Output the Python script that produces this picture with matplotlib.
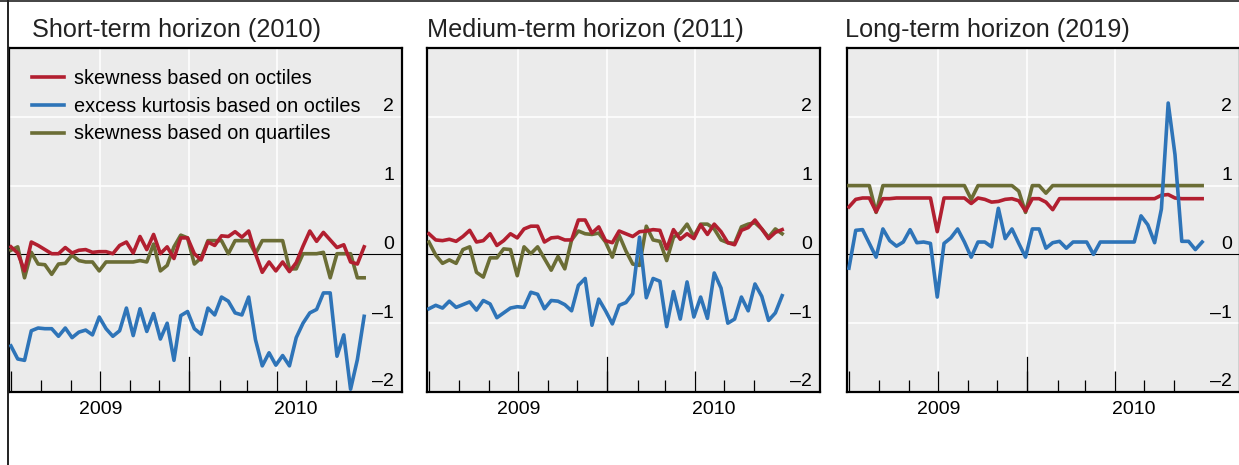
import matplotlib
matplotlib.use("Agg")
import matplotlib.pyplot as plt
import matplotlib.transforms as mtransforms
from matplotlib.lines import Line2D
import pandas as pd

plt.rcParams['font.family'] = ['Liberation Sans', 'DejaVu Sans']

# ---------------- data ----------------
dates = pd.date_range('2009-07-01', periods=53, freq='7D')

titles = ["Short-term horizon (2010)", "Medium-term horizon (2011)", "Long-term horizon (2019)"]
legend_labels = ["skewness based on octiles", "excess kurtosis based on octiles", "skewness based on quartiles"]
ytick_values = [-2, -1, 0, 1, 2]
ytick_labels = ["\u20132", "\u20131", "0", "1", "2"]
year_labels = ["2009", "2010"]

short_skew_oct = [0.11, 0.02, -0.24, 0.18, 0.13, 0.07, 0.01, 0.01, 0.10, 0.02,
                  0.06, 0.07, 0.03, 0.04, 0.04, 0.01, 0.13, 0.18, 0.02, 0.26,
                  0.07, 0.29, 0.01, 0.11, -0.06, 0.24, 0.24, 0.01, -0.08, 0.18,
                  0.13, 0.27, 0.26, 0.33, 0.25, 0.34, 0.01, -0.26, -0.11, -0.24,
                  -0.11, -0.25, -0.12, 0.12, 0.34, 0.19, 0.32, 0.21, 0.10, 0.14,
                  -0.11, -0.14, 0.11]
short_kurt_oct = [-1.33, -1.52, -1.54, -1.11, -1.07, -1.08, -1.08, -1.19, -1.07, -1.21,
                  -1.13, -1.10, -1.17, -0.91, -1.08, -1.19, -1.11, -0.78, -1.18, -0.79,
                  -1.12, -0.86, -1.23, -1.00, -1.54, -0.89, -0.83, -1.08, -1.16, -0.78,
                  -0.88, -0.62, -0.68, -0.85, -0.88, -0.62, -1.24, -1.62, -1.43, -1.61,
                  -1.47, -1.62, -1.21, -1.00, -0.85, -0.80, -0.56, -0.56, -1.48, -1.17,
                  -1.96, -1.53, -0.90]
short_skew_quart = [0.06, 0.11, -0.34, 0.03, -0.14, -0.15, -0.29, -0.14, -0.13, -0.01,
                    -0.09, -0.11, -0.11, -0.24, -0.11, -0.11, -0.11, -0.11, -0.11, -0.09,
                    -0.11, 0.15, -0.24, -0.16, 0.11, 0.28, 0.24, -0.14, -0.05, 0.20,
                    0.20, 0.20, 0.01, 0.20, 0.20, 0.20, 0.01, 0.20, 0.20, 0.20,
                    0.20, -0.21, -0.21, 0.01, 0.01, 0.01, 0.03, -0.34, 0.01, 0.01,
                    0.01, -0.34, -0.34]

medium_skew_oct = [0.30, 0.21, 0.20, 0.22, 0.19, 0.26, 0.35, 0.18, 0.20, 0.30,
                   0.13, 0.20, 0.30, 0.24, 0.37, 0.41, 0.41, 0.18, 0.24, 0.25,
                   0.21, 0.21, 0.50, 0.50, 0.31, 0.40, 0.20, 0.17, 0.34, 0.30,
                   0.26, 0.33, 0.34, 0.36, 0.35, 0.08, 0.36, 0.22, 0.30, 0.23,
                   0.43, 0.29, 0.44, 0.33, 0.17, 0.14, 0.35, 0.39, 0.50, 0.37,
                   0.23, 0.32, 0.36]
medium_kurt_oct = [-0.79, -0.74, -0.78, -0.68, -0.77, -0.73, -0.69, -0.81, -0.67, -0.72,
                   -0.92, -0.85, -0.78, -0.76, -0.77, -0.55, -0.58, -0.79, -0.67, -0.68,
                   -0.73, -0.82, -0.45, -0.35, -1.03, -0.65, -0.82, -1.01, -0.74, -0.70,
                   -0.57, 0.25, -0.63, -0.35, -0.39, -1.05, -0.54, -0.94, -0.40, -0.91,
                   -0.62, -0.93, -0.27, -0.49, -1.00, -0.94, -0.62, -0.82, -0.43, -0.61,
                   -0.96, -0.85, -0.60]
medium_skew_quart = [0.18, -0.01, -0.13, -0.08, -0.13, 0.07, 0.11, -0.26, -0.33, -0.05,
                     -0.05, 0.08, 0.07, -0.31, 0.11, 0.01, 0.11, -0.06, -0.23, -0.03,
                     -0.21, 0.21, 0.34, 0.30, 0.29, 0.31, 0.18, -0.04, 0.28, 0.05,
                     -0.14, -0.16, 0.41, 0.21, 0.19, -0.09, 0.25, 0.31, 0.44, 0.26,
                     0.44, 0.44, 0.37, 0.21, 0.17, 0.16, 0.40, 0.44, 0.46, 0.37,
                     0.25, 0.37, 0.30]

long_skew_oct = [0.69, 0.80, 0.82, 0.82, 0.62, 0.81, 0.81, 0.82, 0.82, 0.82,
                 0.82, 0.82, 0.82, 0.33, 0.82, 0.82, 0.82, 0.82, 0.74, 0.82,
                 0.80, 0.76, 0.77, 0.80, 0.81, 0.78, 0.63, 0.81, 0.81, 0.76,
                 0.65, 0.81, 0.81, 0.81, 0.81, 0.81, 0.81, 0.81, 0.81, 0.81,
                 0.81, 0.81, 0.81, 0.81, 0.81, 0.81, 0.86, 0.87, 0.82, 0.81,
                 0.81, 0.81, 0.81]
long_kurt_oct = [-0.20, 0.35, 0.36, 0.16, -0.04, 0.37, 0.20, 0.12, 0.18, 0.36,
                 0.17, 0.18, 0.16, -0.62, 0.16, 0.24, 0.37, 0.18, -0.04, 0.18,
                 0.18, 0.11, 0.67, 0.23, 0.37, 0.16, -0.04, 0.37, 0.37, 0.09,
                 0.17, 0.19, 0.09, 0.18, 0.18, 0.18, 0.00, 0.18, 0.18, 0.18,
                 0.18, 0.18, 0.18, 0.56, 0.43, 0.17, 0.66, 2.20, 1.45, 0.19,
                 0.19, 0.07, 0.18]
long_skew_quart = [1.00, 1.00, 1.00, 1.00, 0.61, 1.00, 1.00, 1.00, 1.00, 1.00,
                   1.00, 1.00, 1.00, 1.00, 1.00, 1.00, 1.00, 1.00, 0.80, 1.00,
                   1.00, 1.00, 1.00, 1.00, 1.00, 0.92, 0.61, 1.00, 1.00, 0.89,
                   1.00, 1.00, 1.00, 1.00, 1.00, 1.00, 1.00, 1.00, 1.00, 1.00,
                   1.00, 1.00, 1.00, 1.00, 1.00, 1.00, 1.00, 1.00, 1.00, 1.00,
                   1.00, 1.00, 1.00]

panels = [
    (short_skew_oct, short_kurt_oct, short_skew_quart),
    (medium_skew_oct, medium_kurt_oct, medium_skew_quart),
    (long_skew_oct, long_kurt_oct, long_skew_quart),
]

# ---------------- style ----------------
RED = "#B21F30"
BLUE = "#2E74B8"
OLIVE = "#6B6D35"
BG = "#EBEBEB"
LW = 2.6

W, H, DPI = 1239, 465, 100
fig = plt.figure(figsize=(W / DPI, H / DPI), dpi=DPI)
fig.patch.set_facecolor("white")

ax_left_px = [9, 427, 847]
title_left_px = [32, 427, 845]
ax_w_px, ax_top_px, ax_bot_px = 393, 48, 392

xlim = (pd.Timestamp('2009-06-29'), pd.Timestamp('2010-08-08'))
quarter_ticks = pd.to_datetime(['2009-07-01', '2009-10-01', '2010-01-01', '2010-04-01'])
month_ticks = pd.date_range('2009-08-01', '2010-06-01', freq='MS')
year_boundary = pd.Timestamp('2010-01-01')
grid_dates = pd.to_datetime(['2009-10-01', '2010-01-01', '2010-04-01'])

for k, (skew_o, kurt_o, skew_q) in enumerate(panels):
    ax = fig.add_axes([ax_left_px[k] / W, (H - ax_bot_px) / H,
                       ax_w_px / W, (ax_bot_px - ax_top_px) / H])
    ax.set_facecolor(BG)
    ax.set_xlim(*xlim)
    ax.set_ylim(-2, 3)

    # grid
    for v in [-1, 1, 2]:
        ax.axhline(v, color="white", lw=1.1, zorder=1)
    for d in grid_dates:
        ax.axvline(d, color="white", lw=1.1, zorder=1)
    ax.axhline(0, color="black", lw=0.8, zorder=2)

    ax.plot(dates, skew_q, color=OLIVE, lw=LW, zorder=3)
    ax.plot(dates, skew_o, color=RED, lw=LW, zorder=4)
    ax.plot(dates, kurt_o, color=BLUE, lw=LW, zorder=5)

    # ticks
    ax.set_xticks(quarter_ticks)
    ax.set_xticks([d for d in month_ticks if d not in quarter_ticks], minor=True)
    ax.tick_params(axis='x', which='major', direction='in', length=15, width=0.9,
                   color='black', labelbottom=False)
    ax.tick_params(axis='x', which='minor', direction='in', length=8.4, width=0.9,
                   color='black', labelbottom=False)
    ax.axvline(year_boundary, ymin=0, ymax=35 / 344, color='black', lw=0.9, zorder=6)
    ax.set_yticks([])

    for s in ax.spines.values():
        s.set_linewidth(1.6)
        s.set_color("black")

    # y labels inside right
    trans = mtransforms.offset_copy(ax.get_yaxis_transform(), fig=fig, x=0, y=4, units='points')
    for v, lab in zip(ytick_values, ytick_labels):
        ax.text(1 - 8 / ax_w_px, v, lab, transform=trans, ha='right', va='baseline',
                fontsize=14, color='black', zorder=7)

    # year labels
    ytr = ax.get_xaxis_transform()
    mid2009 = pd.Timestamp('2009-07-01') + (year_boundary - pd.Timestamp('2009-07-01')) / 2
    mid2010 = year_boundary + (xlim[1] - year_boundary) / 2
    for d, lab in zip([mid2009, mid2010], year_labels):
        ax.text(d, -17 / 344, lab, transform=ytr, ha='center', va='center', fontsize=14,
                clip_on=False)

    fig.text(title_left_px[k] / W, 1 - 37 / H, titles[k], fontsize=18.2,
             ha='left', va='baseline', color='#222222')

    if k == 0:
        handles = [Line2D([], [], color=RED, lw=LW),
                   Line2D([], [], color=BLUE, lw=LW),
                   Line2D([], [], color=OLIVE, lw=LW)]
        leg = ax.legend(handles, legend_labels, loc='upper left',
                        bbox_to_anchor=(23 / ax_w_px, 1 - 21 / 344), frameon=False,
                        fontsize=14.3, handlelength=1.62, handletextpad=0.5,
                        labelspacing=0.44, borderpad=0, borderaxespad=0)
        leg.set_zorder(8)

# figure border lines (top and left)
fig.add_artist(Line2D([0, 1], [1 - 0.6 / H, 1 - 0.6 / H], transform=fig.transFigure,
                      color='#222222', lw=1.2))
fig.add_artist(Line2D([7.5 / W, 7.5 / W], [0, 1], transform=fig.transFigure,
                      color='#222222', lw=1.4))

fig.savefig("out.png", dpi=DPI, facecolor='white')
